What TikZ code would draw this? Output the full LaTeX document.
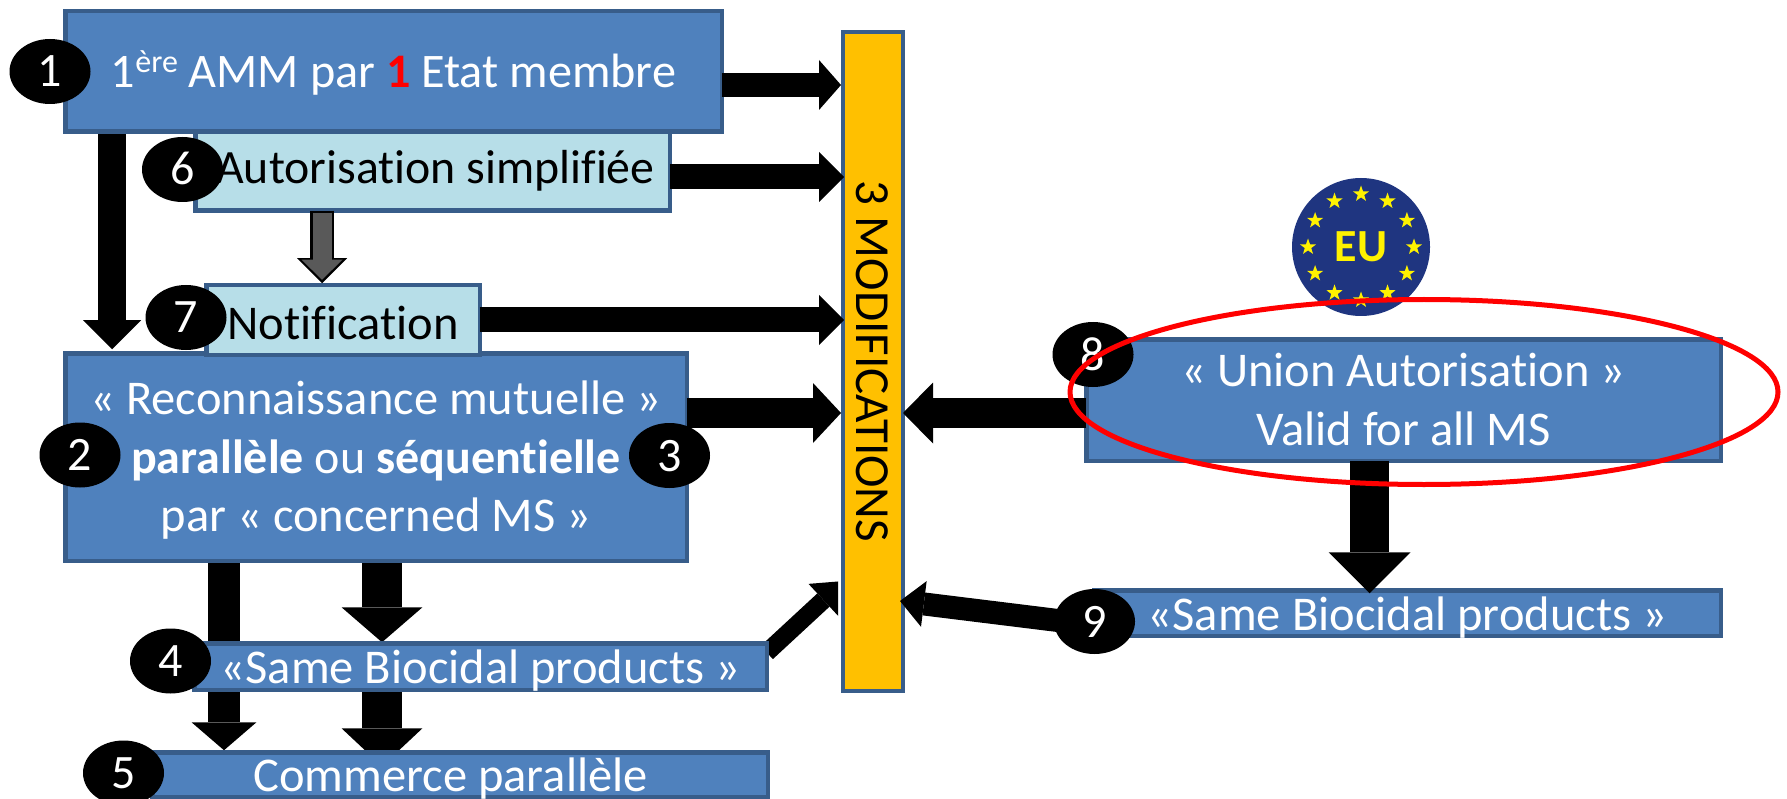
\documentclass[tikz,border=0pt]{standalone}
\usepackage{fontspec}
\setmainfont[Ligatures=NoCommon]{Carlito}
\usetikzlibrary{arrows.meta,calc,backgrounds,shapes.geometric}
\definecolor{bluefill}{HTML}{4F81BD}
\definecolor{blueline}{HTML}{385D8A}
\definecolor{lightfill}{HTML}{B7DEE8}
\definecolor{amber}{HTML}{FFC000}
\definecolor{eublue}{HTML}{1F3580}
\definecolor{euyellow}{HTML}{FFF200}
\definecolor{grayarrow}{HTML}{595959}
\newcommand\bl[2]{\smash{\raisebox{#1pt}{#2}}}
\tikzset{
  basebox/.style={rectangle,draw=blueline,line width=4.5pt,inner sep=0pt,outer sep=0pt,font=\fontsize{48.5}{58.5}\selectfont,align=center},
  bluebox/.style={basebox,fill=bluefill,text=white},
  lightbox/.style={basebox,fill=lightfill,text=black},
  modbox/.style={basebox,fill=amber,text=black},
  badge/.style={ellipse,fill=black,text=white,inner sep=0pt,outer sep=0pt,minimum width=81pt,minimum height=65pt,font=\fontsize{48}{58}\selectfont},
  blockarrow/.style n args={3}{draw=black,line width=#1pt,-{Triangle[length=#2pt,width=#3pt,line width=0pt]}},
  eustar/.style={star,star points=5,star point ratio=2.5,fill=euyellow,inner sep=0pt,outer sep=0pt,minimum size=17pt}
}
\begin{document}
\begin{tikzpicture}[x=1pt,y=-1pt]
\useasboundingbox (0,0) rectangle (1787,799);
% boxes
\node[lightbox,font=\fontsize{47.8}{58.5}\selectfont,minimum width=474.5pt,minimum height=78.5pt] (box6) at (432.5,171.5) {\bl{-12.5}{\hspace*{6pt}Autorisation simplifiée}};
\node[bluebox,font=\fontsize{48.2}{58.5}\selectfont,minimum width=656.5pt,minimum height=120.5pt] (box1) at (393.5,71.5) {\bl{-16.2}{1\raisebox{15pt}{\fontsize{32}{32}\selectfont ère} AMM par \textcolor{red}{\textbf{1}} Etat membre}};
\node[bluebox,minimum width=621.5pt,minimum height=207.5pt] (box2) at (376,457) {\bl{-16}{« Reconnaissance mutuelle »}\\\bl{-16}{\fontsize{48}{58.5}\selectfont\textbf{parallèle} ou \textbf{séquentielle}}\\\bl{-16}{par « concerned MS »}};
\node[lightbox,minimum width=273.5pt,minimum height=69.5pt] (box7) at (343,320) {\bl{-20}{Notification}};
\node[bluebox,minimum width=572.5pt,minimum height=46.5pt] (box4) at (480.5,666.5) {\bl{-16.5}{«Same Biocidal products »}};
\node[bluebox,minimum width=615.5pt,minimum height=44.5pt] (box5) at (460,774.5) {\bl{-16.5}{Commerce parallèle\hspace*{19pt}}};
\node[bluebox,minimum width=634.5pt,minimum height=121.5pt] (box8) at (1403.5,400) {\bl{-16}{« Union Autorisation »}\\\bl{-16}{Valid for all MS}};
\node[bluebox,minimum width=626.5pt,minimum height=45.5pt] (box9) at (1407.5,613) {\bl{-17}{«Same Biocidal products »}};
\node[modbox,minimum width=60pt,minimum height=659pt] (mod) at (873,361.5) {};
\node[rotate=-90,font=\fontsize{49}{58}\selectfont,inner sep=0pt] (modtext) at (873,361.5) {\bl{-17}{3 MODIFICATIONS}};
% EU emblem
\node[circle,fill=eublue,inner sep=0pt,outer sep=0pt,minimum size=138pt,text=euyellow,font=\bfseries\fontsize{46}{46}\selectfont] (eu) at (1361,247) {\bl{-15}{EU}};
\foreach \i in {1,...,12}{
  \node[eustar] (star\i) at ($(eu.center)+({53*cos(30*\i)},{53*sin(30*\i)})$) {};
}
% arrows behind the boxes
\begin{scope}[on background layer]
\draw[blockarrow={28}{29}{58}] ($(box1.south)+(-281.5,0)$) -- ($(box2.north)+(-264,-4)$);
\draw[blockarrow={32}{28}{65}] ($(box2.south)+(-152,0)$) -- ($(box5.north)+(-236,-2)$);
\draw[blockarrow={40}{35}{81}] ($(box2.south)+(6,0)$) -- ($(box4.north)+(-98.5,-1)$);
\draw[blockarrow={40}{38}{81}] ($(box4.south)+(-98.5,0)$) -- ($(box5.north)+(-78,14)$);
\begin{scope}
\clip (700,500) rectangle (838,700);
\draw[blockarrow={18}{28}{44}] ($(box4.east)+(0,-14)$) -- ($(mod.west)+(1,219.5)$);
\end{scope}
\end{scope}
% arrows above the boxes
\draw[blockarrow={24}{22}{50}] ($(box1.east)+(0,13.5)$) -- ($(mod.west)+(-2,-276.5)$);
\draw[blockarrow={25}{25}{50}] ($(box6.east)+(0,5.5)$) -- ($(mod.west)+(1,-184.5)$);
\draw[blockarrow={25}{25}{50}] (box7.east) -- ($(mod.west)+(1,-41.5)$);
\draw[blockarrow={30}{28}{60}] ($(box2.east)+(0,-44)$) -- ($(mod.west)+(-2,51.5)$);
\draw[blockarrow={30}{30}{61}] ($(box8.west)+(0,13)$) -- ($(mod.east)+(0,51.5)$);
\draw[blockarrow={39}{41}{82}] ($(box8.south)+(-34,0)$) -- ($(box9.north)+(-38,3)$);
\draw[blockarrow={23}{24}{46}] ($(box9.west)+(0,12)$) -- ($(mod.east)+(-3,239.5)$);
\draw[blockarrow={24}{25}{50}] ($(box6.south)+(-110.5,0)$) -- ($(box7.north)+(-21,-2)$);
\draw[draw=grayarrow,line width=19pt,-{Triangle[length=20pt,width=41pt,line width=0pt]}] ($(box6.south)+(-110.5,2)$) -- ($(box7.north)+(-21,-5.5)$);
% numbered badges
\node[badge] (b1) at (50,71.5) {\bl{-15.5}{1}};
\node[badge] (b6) at (182.5,169.5) {\bl{-15.5}{6}};
\node[badge] (b7) at (186,317.5) {\bl{-15}{7}};
\node[badge] (b2) at (80,455) {\bl{-15.5}{2}};
\node[badge] (b3) at (669.5,455.5) {\bl{-15.5}{3}};
\node[badge] (b4) at (170.5,661) {\bl{-15}{4}};
\node[badge] (b5) at (123.5,773) {\bl{-15}{5}};
\node[badge] (b8) at (1093,354.5) {\bl{-15.5}{8}};
\node[badge] (b9) at (1094.5,621.5) {\bl{-15.5}{9}};
% highlight ring
\node[ellipse,draw=red,line width=5pt,inner sep=0pt,outer sep=0pt,minimum width=708pt,minimum height=185pt] (ring) at (1424,392) {};
\end{tikzpicture}
\end{document}
